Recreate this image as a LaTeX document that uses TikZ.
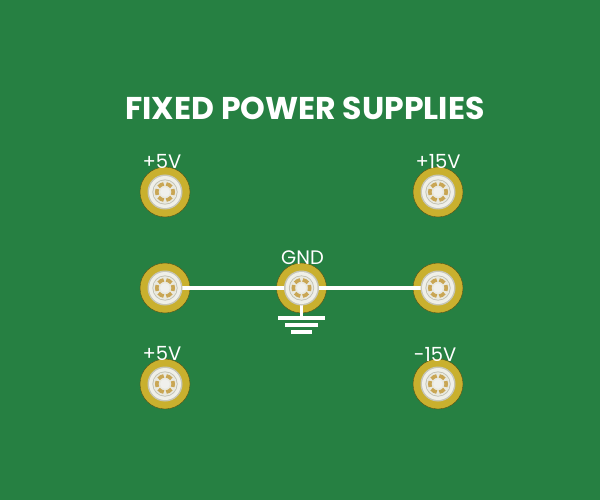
\documentclass[tikz,border=0pt]{standalone}
\usepackage{fontspec}
\setmainfont{Poppins}
\definecolor{board}{HTML}{268042}
\definecolor{brass}{HTML}{C9B02E}
\definecolor{ringa}{HTML}{C6C6B8}
\definecolor{ringb}{HTML}{EFEFE8}
\definecolor{ringc}{HTML}{BDBDAE}
\definecolor{ringd}{HTML}{E9E9DF}
\definecolor{pad}{HTML}{C9A654}
\definecolor{hub}{HTML}{F0F0EC}
\tikzset{
  x=1pt,y=-1pt,
  padnode/.style={circle,fill=brass,draw=black!55!brass,line width=0.4pt,minimum size=50pt,inner sep=0pt},
  wire/.style={white,line width=3.4pt},
  lab/.style={white,font=\fontsize{19.5}{21}\selectfont,inner sep=0pt,anchor=base},
  titlelab/.style={white,font=\fontsize{31.5}{33}\bfseries\selectfont,inner sep=0pt,anchor=base},
}
\newcommand{\termhead}[1]{%
  \begin{scope}[shift={(#1.center)}]
    \fill[ringa] (0,0) circle (17.5pt);
    \fill[ringb] (0,0) circle (16pt);
    \fill[ringc] (0,0) circle (12.6pt);
    \fill[ringd] (0,0) circle (11.8pt);
    \foreach \a in {0,60,...,300}
      \draw[pad,line width=3.6pt,rotate=\a] (-21:8.2pt) arc (-21:21:8.2pt);
    \fill[hub] (0,0) circle (4.8pt);
  \end{scope}}
\begin{document}
\begin{tikzpicture}
\useasboundingbox (0,0) rectangle (600,500);
\fill[board] (0,0) rectangle (600,500);
\node[titlelab] (title) at (305,120) {FIXED POWER SUPPLIES};
\node[padnode] (a) at (165,192) {};
\node[padnode] (b) at (438,192) {};
\node[padnode] (c) at (165,288) {};
\node[padnode] (g) at (301.5,288) {};
\node[padnode] (d) at (438,288) {};
\node[padnode] (e) at (165,384) {};
\node[padnode] (f) at (438,384) {};
\coordinate (gs) at (301.5,318);
\draw[wire] (c.center) -- (g.center) -- (d.center);
\draw[wire] (g.center) -- (gs);
\coordinate (g1l) at (278,318); \coordinate (g1r) at (325,318);
\coordinate (g2l) at (285,325); \coordinate (g2r) at (318,325);
\coordinate (g3l) at (291,332); \coordinate (g3r) at (312,332);
\draw[wire] (g1l) -- (g1r);
\draw[wire] (g2l) -- (g2r);
\draw[wire] (g3l) -- (g3r);
\termhead{a}\termhead{b}\termhead{c}\termhead{g}\termhead{d}\termhead{e}\termhead{f}
\node[lab] (la) at (162,168.5) {+5V};
\node[lab] (lb) at (438,168.5) {+15V};
\node[lab] (lg) at (302.5,264.5) {GND};
\node[lab] (le) at (162,360.5) {+5V};
\node[lab] (lf) at (435,361.5) {-15V};
\end{tikzpicture}
\end{document}
